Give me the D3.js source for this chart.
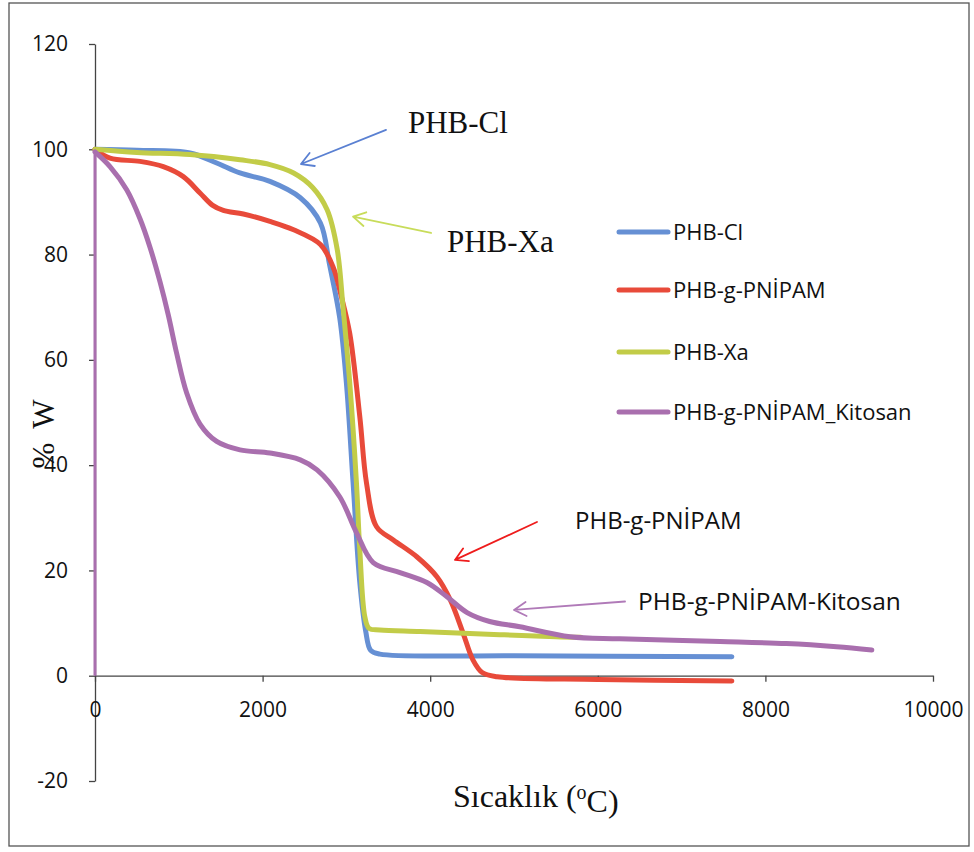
<!DOCTYPE html>
<html>
<head>
<meta charset="utf-8">
<script src="https://cdn.jsdelivr.net/npm/d3@7/dist/d3.min.js"></script>
<style>
  html, body { margin: 0; padding: 0; background: #fff; }
  svg { display: block; }
</style>
</head>
<body>
<svg id="chart" width="974" height="852"></svg>
<script>
// ---------- DATA ----------
const seriesNames = ["PHB-Cl", "PHB-g-PNİPAM", "PHB-Xa", "PHB-g-PNİPAM_Kitosan"];

const clT = [0, 500, 1134, 1452, 1730, 2088, 2450, 2690, 2800, 2920, 3000, 3080, 3160, 3230, 3290, 3400, 5000, 7600];
const clW = [100, 99.8, 99.3, 97.4, 95.5, 93.9, 90.8, 86, 78, 68, 55.6, 36.6, 17.7, 8.5, 4.8, 4.1, 3.8, 3.6];

const pnT = [0, 179, 537, 815, 1054, 1253, 1400, 1531, 1770, 2088, 2370, 2690, 2840, 2940, 3040, 3160, 3240, 3360, 3560, 3840, 4080, 4240, 4390, 4510, 4620, 4800, 6000, 7600];
const pnW = [100, 98.3, 97.7, 96.7, 94.8, 91.7, 89.4, 88.4, 87.7, 86.3, 84.7, 81.9, 77.7, 72, 65, 49.2, 36.6, 28.3, 25.8, 22.6, 18.8, 14.4, 8.2, 3, 0.6, -0.2, -0.7, -1.0];

const xaT = [0, 500, 1134, 1730, 2088, 2370, 2600, 2770, 2890, 2960, 3040, 3120, 3160, 3220, 3270, 3400, 3880, 4830, 5500, 5800];
const xaW = [100, 99.4, 99, 98, 97.1, 95.5, 92.7, 88.5, 81, 70, 55.6, 36.6, 23.9, 11.2, 9, 8.7, 8.4, 7.8, 7.4, 7.3];

const ktT = [0, 0, 179, 378, 537, 656, 776, 875, 975, 1094, 1253, 1452, 1730, 2088, 2450, 2650, 2920, 3120, 3320, 3640, 3960, 4200, 4440, 4710, 5070, 5670, 6260, 7460, 8250, 8850, 9270];
const ktW = [0, 99.5, 96.7, 92.3, 86.8, 81.4, 74.8, 68.5, 61.2, 53.7, 47.8, 44.5, 42.9, 42.3, 41, 39.1, 34, 27.2, 21.5, 19.6, 17.7, 15, 12, 10.3, 9.3, 7.4, 7, 6.5, 6.1, 5.5, 4.9];

const xTicks = [0, 2000, 4000, 6000, 8000, 10000];
const yTicks = [-20, 0, 20, 40, 60, 80, 100, 120];

// annotations: label, text anchor point (T, W), arrow start (T, W), arrow end (T, W)
const annLabels = ["PHB-Cl", "PHB-Xa", "PHB-g-PNİPAM", "PHB-g-PNİPAM-Kitosan"];
const annTextT = [3735, 4200, 5728, 6480];
const annTextW = [103.1, 80.5, 27.9, 12.5];
const annFromT = [3473, 4010, 5274, 6325];
const annFromW = [103.7, 84.1, 29.2, 14.1];
const annToT = [2458, 3079, 4296, 5000];
const annToW = [97.2, 87.2, 22.0, 12.5];

// ---------- STYLE ----------
const colors = ["#6690d4", "#e84a3a", "#c2cc48", "#a96fae"];
const arrowColors = ["#5a80d2", "#c8dc5a", "#ee1c1c", "#b07ab8"];

const svg = d3.select("#chart");
svg.append("rect").attr("x", 0).attr("y", 0).attr("width", 974).attr("height", 852).attr("fill", "#fff");
svg.append("rect").attr("x", 9).attr("y", 3).attr("width", 960).attr("height", 843)
  .attr("fill", "none").attr("stroke", "#555").attr("stroke-width", 1.3);

const x = d3.scaleLinear().domain([0, 10000]).range([95, 933]);
const y = d3.scaleLinear().domain([-20, 120]).range([781, 44]);

const tickFont = "'Open Sans', 'DejaVu Sans', sans-serif";
const serif = "'Liberation Serif', 'Times New Roman', serif";
const fmt = d => String(d); // keeps ASCII hyphen for negatives

// axes
const yAxis = d3.axisLeft(y).tickValues(yTicks).tickSize(6).tickSizeOuter(0).tickPadding(21).tickFormat(fmt);
const gy = svg.append("g").attr("transform", `translate(${x(0)},0)`).call(yAxis);
const xAxis = d3.axisBottom(x).tickValues(xTicks).tickSize(6).tickSizeOuter(0).tickPadding(20).tickFormat(fmt);
const gx = svg.append("g").attr("transform", `translate(0,${y(0)})`).call(xAxis);
[gx, gy].forEach(g => {
  g.selectAll("path.domain").attr("stroke", "#444").attr("stroke-width", 1.3);
  g.selectAll(".tick line").attr("stroke", "#444").attr("stroke-width", 1.3);
  g.selectAll(".tick text").attr("fill", "#111").style("font-family", tickFont).style("font-size", "21px");
});

// series
const series = [
  { T: clT, W: clW },
  { T: pnT, W: pnW },
  { T: xaT, W: xaW },
  { T: ktT, W: ktW }
];
const lineCurve = d3.line().x(d => x(d[0])).y(d => y(d[1])).curve(d3.curveCatmullRom.alpha(0.5));
const lineStraight = d3.line().x(d => x(d[0])).y(d => y(d[1]));

series.forEach((s, i) => {
  const pts = s.T.map((t, k) => [t, s.W[k]]);
  if (i === 3) {
    // vertical rise at T=0, then smooth decay
    svg.append("path").attr("d", lineStraight(pts.slice(0, 2)))
      .attr("fill", "none").attr("stroke", colors[i]).attr("stroke-width", 3);
    svg.append("path").attr("d", lineCurve(pts.slice(1)))
      .attr("fill", "none").attr("stroke", colors[i]).attr("stroke-width", 5)
      .attr("stroke-linecap", "round").attr("stroke-linejoin", "round");
  } else {
    svg.append("path").attr("d", lineCurve(pts))
      .attr("fill", "none").attr("stroke", colors[i]).attr("stroke-width", 5)
      .attr("stroke-linecap", "round").attr("stroke-linejoin", "round");
  }
});

// legend
const legY = [232, 290, 352, 412];
seriesNames.forEach((n, i) => {
  svg.append("line").attr("x1", 619).attr("x2", 668).attr("y1", legY[i]).attr("y2", legY[i])
    .attr("stroke", colors[i]).attr("stroke-width", 5).attr("stroke-linecap", "round");
  svg.append("text").attr("x", 673).attr("y", legY[i]).attr("dy", "0.36em")
    .style("font-family", tickFont).style("font-size", "22px").attr("fill", "#111").text(n);
});

// annotations
const annFonts = [serif, serif, tickFont, tickFont];
const annSizes = ["31px", "31px", "24px", "24.5px"];
annLabels.forEach((lab, i) => {
  svg.append("text").attr("x", x(annTextT[i])).attr("y", y(annTextW[i]))
    .style("font-family", annFonts[i]).style("font-size", annSizes[i]).attr("fill", "#111").text(lab);
  const x1 = x(annFromT[i]), y1 = y(annFromW[i]), x2 = x(annToT[i]), y2 = y(annToW[i]);
  const ang = Math.atan2(y2 - y1, x2 - x1);
  const L = 14, a = Math.PI / 6;
  const hx1 = x2 - L * Math.cos(ang - a), hy1 = y2 - L * Math.sin(ang - a);
  const hx2 = x2 - L * Math.cos(ang + a), hy2 = y2 - L * Math.sin(ang + a);
  svg.append("path").attr("d", `M${x1},${y1}L${x2},${y2}M${hx1},${hy1}L${x2},${y2}L${hx2},${hy2}`)
    .attr("fill", "none").attr("stroke", arrowColors[i]).attr("stroke-width", 1.8)
    .attr("stroke-linecap", "round").attr("stroke-linejoin", "round");
});

// axis titles
const xt = svg.append("text").attr("x", 453).attr("y", 807)
  .style("font-family", serif).style("font-size", "32px").attr("fill", "#111");
xt.append("tspan").text("Sıcaklık (");
xt.append("tspan").attr("dy", "-0.4em").style("font-size", "20px").text("o");
xt.append("tspan").attr("dy", "0.4em").text("C)");

const yt = svg.append("text").attr("transform", "translate(54,434) rotate(-90)").attr("text-anchor", "middle")
  .style("font-family", serif).style("font-size", "31px").attr("fill", "#111");
yt.append("tspan").text("%");
yt.append("tspan").attr("dx", 14).text("W");
</script>
</body>
</html>
